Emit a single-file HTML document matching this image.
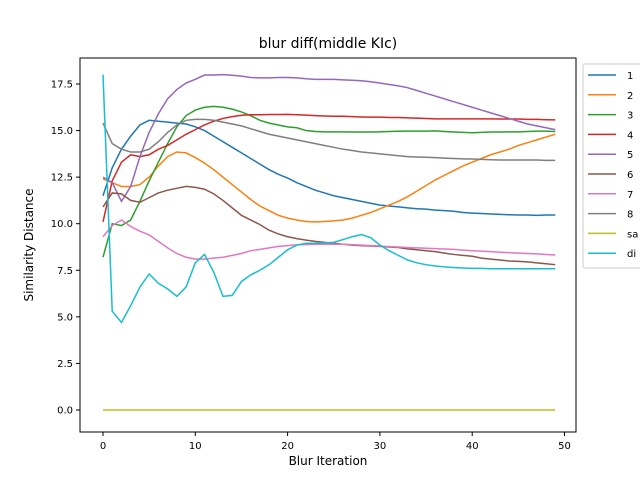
<!DOCTYPE html>
<html><head><meta charset="utf-8"><style>
body{margin:0;background:#fff;font-family:"Liberation Sans","DejaVu Sans",sans-serif;}
svg text{font-family:"DejaVu Sans","Liberation Sans",sans-serif;}
</style></head><body>
<svg id="chart" width="640" height="480" xmlns="http://www.w3.org/2000/svg">
<rect x="0" y="0" width="640" height="480" fill="#fff"/>
<text x="328" y="48" font-size="14" text-anchor="middle">blur diff(middle KIc)</text>
<g id="plot"></g>
<rect x="80" y="58" width="496" height="374" fill="none" stroke="#000" stroke-width="1"/>
<text x="328" y="465" font-size="12" text-anchor="middle">Blur Iteration</text>
<text transform="translate(33,245) rotate(-90)" font-size="12" text-anchor="middle">Similarity Distance</text>
<g id="legend"></g>
</svg>
<script>
const seriesNames=["1","2","3","4","5","6","7","8","sa","di"];
const colors=["#1f77b4","#ff7f0e","#2ca02c","#d62728","#9467bd","#8c564b","#e377c2","#7f7f7f","#bcbd22","#17becf"];
const xTicks=[0,10,20,30,40,50];
const yTicks=[0,2.5,5,7.5,10,12.5,15,17.5];
const s1=[11.5,13.0,14.0,14.7,15.3,15.55,15.5,15.45,15.4,15.35,15.2,15.0,14.7,14.4,14.1,13.8,13.5,13.2,12.9,12.65,12.45,12.2,12.0,11.8,11.65,11.5,11.4,11.3,11.2,11.1,11.0,10.95,10.9,10.85,10.8,10.78,10.73,10.7,10.67,10.6,10.57,10.55,10.52,10.5,10.48,10.47,10.47,10.45,10.47,10.47];
const s2=[12.4,12.2,12.0,12.0,12.1,12.5,13.1,13.6,13.85,13.8,13.55,13.25,12.9,12.5,12.1,11.7,11.3,10.95,10.7,10.45,10.3,10.2,10.12,10.1,10.12,10.15,10.2,10.3,10.45,10.6,10.8,11.0,11.2,11.45,11.75,12.05,12.35,12.6,12.85,13.1,13.3,13.5,13.7,13.85,14.0,14.2,14.35,14.5,14.65,14.8];
const s3=[8.2,10.0,9.9,10.2,11.2,12.3,13.3,14.3,15.2,15.8,16.1,16.25,16.3,16.25,16.15,16.0,15.8,15.55,15.4,15.3,15.2,15.15,15.0,14.95,14.93,14.93,14.93,14.92,14.92,14.92,14.93,14.95,14.96,14.97,14.97,14.97,14.98,14.95,14.92,14.9,14.88,14.9,14.92,14.92,14.93,14.93,14.95,14.97,14.97,14.95];
const s4=[10.1,12.3,13.3,13.7,13.6,13.7,14.0,14.2,14.5,14.8,15.05,15.3,15.5,15.65,15.75,15.82,15.85,15.85,15.86,15.86,15.87,15.85,15.83,15.8,15.78,15.77,15.77,15.75,15.73,15.72,15.72,15.7,15.7,15.68,15.67,15.65,15.63,15.63,15.63,15.63,15.63,15.63,15.63,15.62,15.62,15.62,15.6,15.6,15.58,15.57];
const s5=[12.5,12.2,11.2,12.0,13.6,14.9,15.9,16.7,17.2,17.55,17.75,17.98,17.98,18.0,17.97,17.92,17.85,17.83,17.83,17.85,17.85,17.83,17.78,17.75,17.75,17.75,17.72,17.7,17.67,17.62,17.55,17.47,17.4,17.3,17.15,17.0,16.85,16.7,16.55,16.4,16.25,16.1,15.95,15.8,15.65,15.5,15.35,15.25,15.15,15.05];
const s6=[10.9,11.65,11.6,11.25,11.15,11.4,11.65,11.8,11.9,12.0,11.95,11.85,11.6,11.25,10.85,10.45,10.2,9.95,9.65,9.45,9.3,9.2,9.12,9.05,9.0,8.95,8.9,8.85,8.82,8.8,8.78,8.75,8.72,8.65,8.6,8.55,8.5,8.42,8.35,8.3,8.25,8.15,8.1,8.05,8.0,7.98,7.95,7.9,7.85,7.8];
const s7=[9.3,9.9,10.2,9.85,9.6,9.4,9.05,8.7,8.4,8.2,8.1,8.1,8.15,8.2,8.3,8.4,8.55,8.62,8.7,8.78,8.82,8.87,8.88,8.9,8.9,8.9,8.9,8.88,8.85,8.82,8.8,8.77,8.75,8.72,8.7,8.68,8.66,8.64,8.62,8.58,8.55,8.53,8.5,8.47,8.45,8.42,8.4,8.38,8.35,8.32];
const s8=[15.4,14.3,14.0,13.85,13.85,14.0,14.4,14.9,15.3,15.55,15.6,15.6,15.55,15.45,15.35,15.25,15.1,14.95,14.8,14.7,14.6,14.5,14.4,14.3,14.2,14.1,14.0,13.93,13.85,13.8,13.75,13.7,13.65,13.6,13.58,13.57,13.55,13.52,13.5,13.48,13.47,13.45,13.43,13.42,13.42,13.42,13.42,13.42,13.4,13.4];
const sSa=[0,0,0,0,0,0,0,0,0,0,0,0,0,0,0,0,0,0,0,0,0,0,0,0,0,0,0,0,0,0,0,0,0,0,0,0,0,0,0,0,0,0,0,0,0,0,0,0,0,0];
const sDi=[18.0,5.3,4.7,5.6,6.6,7.3,6.8,6.5,6.1,6.6,7.9,8.35,7.4,6.1,6.15,6.9,7.25,7.5,7.8,8.2,8.6,8.85,8.95,8.95,8.97,9.0,9.15,9.3,9.42,9.25,8.85,8.55,8.3,8.05,7.9,7.8,7.73,7.68,7.65,7.62,7.6,7.6,7.58,7.58,7.58,7.58,7.58,7.58,7.58,7.58];
const allSeries=[s1,s2,s3,s4,s5,s6,s7,s8,sSa,sDi];
const NS="http://www.w3.org/2000/svg";
function xs(v){return 103+v*9.23;}
function ys(v){return 410-v*18.63;}
const plot=document.getElementById('plot');
xTicks.forEach(t=>{
  const l=document.createElementNS(NS,'line');
  
  
  l.setAttribute('x1',xs(t));l.setAttribute('x2',xs(t));l.setAttribute('y1',432);l.setAttribute('y2',436);l.setAttribute('stroke','#000');
  plot.appendChild(l);
  const tx=document.createElementNS(NS,'text');
  
  
  tx.setAttribute('x',xs(t));tx.setAttribute('y',449);tx.setAttribute('font-size','10');tx.setAttribute('text-anchor','middle');
  tx.textContent=t;plot.appendChild(tx);
});
yTicks.forEach(t=>{
  const l=document.createElementNS(NS,'line');
  
  
  l.setAttribute('x1',76);l.setAttribute('x2',80);l.setAttribute('y1',ys(t));l.setAttribute('y2',ys(t));l.setAttribute('stroke','#000');
  plot.appendChild(l);
  const tx=document.createElementNS(NS,'text');
  
  
  tx.setAttribute('x',73);tx.setAttribute('y',ys(t)+3.5);tx.setAttribute('font-size','10');tx.setAttribute('text-anchor','end');
  tx.textContent=t.toFixed(1);plot.appendChild(tx);
});
allSeries.forEach((s,i)=>{
  const p=document.createElementNS(NS,'polyline');
  
  
  p.setAttribute('points',s.map((v,j)=>xs(j)+','+ys(v)).join(' '));
  p.setAttribute('fill','none');p.setAttribute('stroke',colors[i]);p.setAttribute('stroke-width','1.5');
  plot.appendChild(p);
});
const lg=document.getElementById('legend');
const box=document.createElementNS(NS,'rect');


box.setAttribute('x',583);box.setAttribute('y',64);box.setAttribute('width',70);box.setAttribute('height',204);box.setAttribute('rx',2);
box.setAttribute('fill','#fff');box.setAttribute('stroke','#ccc');
lg.appendChild(box);
seriesNames.forEach((n,i)=>{
  const y=75+i*19.8;
  const l=document.createElementNS(NS,'line');
  
  
  l.setAttribute('x1',588);l.setAttribute('x2',616);l.setAttribute('y1',y);l.setAttribute('y2',y);
  l.setAttribute('stroke',colors[i]);l.setAttribute('stroke-width','1.5');
  lg.appendChild(l);
  const t=document.createElementNS(NS,'text');
  
  
  t.setAttribute('x',627);t.setAttribute('y',y+4);t.setAttribute('font-size','10');
  t.textContent=n;lg.appendChild(t);
});
</script>
</body></html>
